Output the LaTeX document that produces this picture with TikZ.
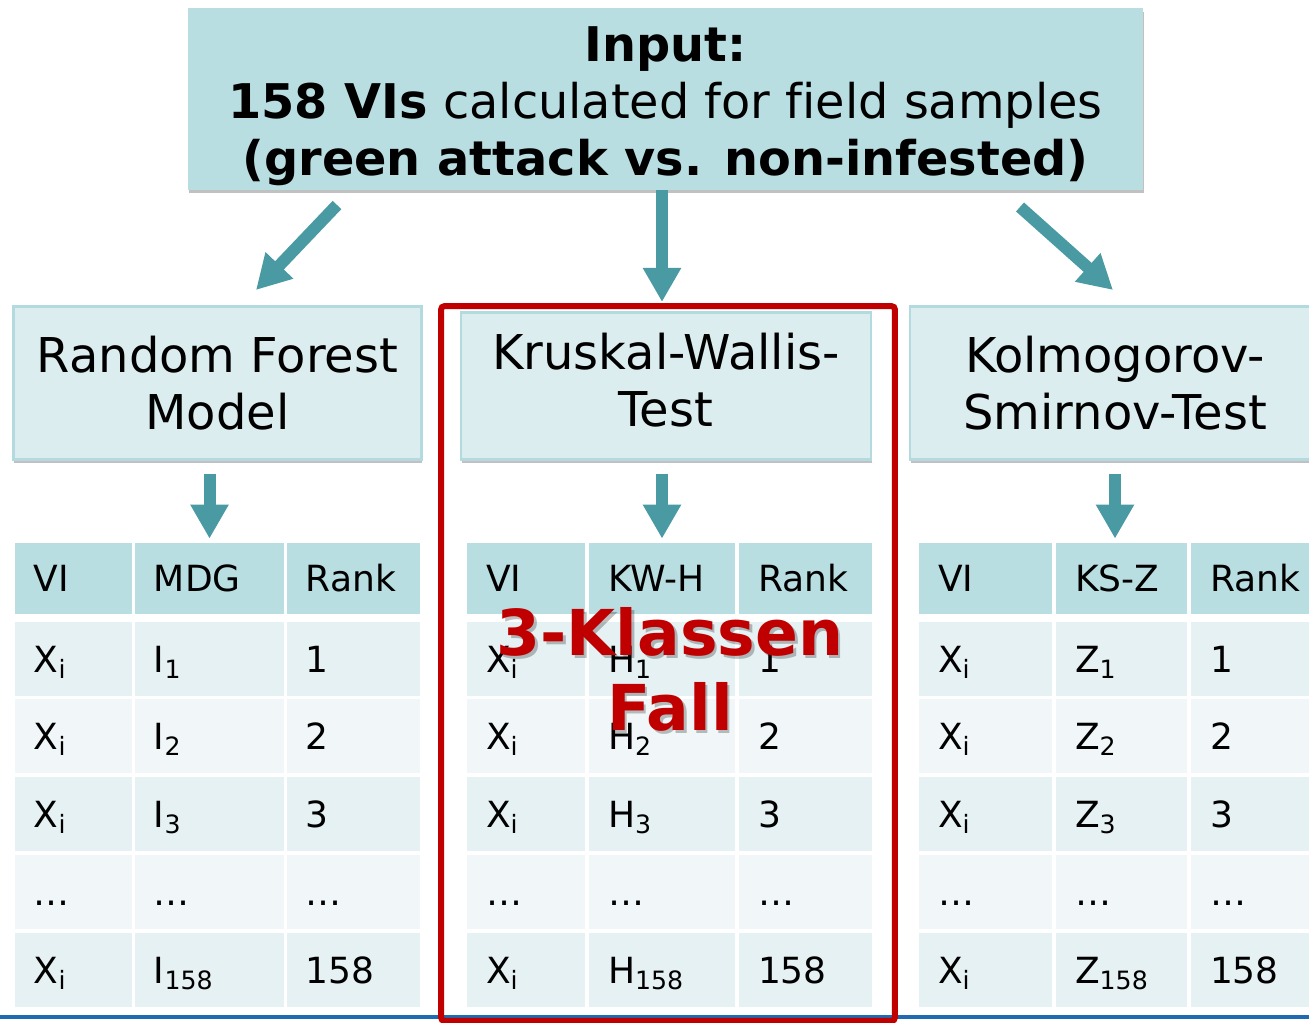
\documentclass[tikz,border=0pt]{standalone}
\usepackage{fontspec}
\setmainfont{DejaVu Sans}[Ligatures=NoCommon]
\usetikzlibrary{arrows.meta,shadows}

\definecolor{headfill}{HTML}{B9DEE2}
\definecolor{boxfill}{HTML}{DBEDEF}
\definecolor{boxline}{HTML}{B3DADE}
\definecolor{rowdark}{HTML}{E5F1F3}
\definecolor{rowlight}{HTML}{F1F7F9}
\definecolor{flowteal}{HTML}{4A9AA3}
\definecolor{markred}{HTML}{C00000}
\definecolor{ruleblue}{HTML}{1F6AB2}

\newcommand\cellsub[1]{\textsubscript{#1}}

% one result table: id, then left edge and width (px) of the three columns,
% header of the middle column, symbol of the statistic
\newcommand\vitable[9]{%
  \pgfmathsetlengthmacro\wA{#3*0.02cm}%
  \pgfmathsetlengthmacro\wB{#5*0.02cm}%
  \pgfmathsetlengthmacro\wC{#7*0.02cm}%
  \foreach \r/\y/\h/\f/\ta/\tb/\tc in {%
      0/543/71/headfill/VI/{#8}/Rank,
      1/622/74/rowdark/{X\cellsub{i}}/{#9\cellsub{1}}/1,
      2/699/74/rowlight/{X\cellsub{i}}/{#9\cellsub{2}}/2,
      3/777/74/rowdark/{X\cellsub{i}}/{#9\cellsub{3}}/3,
      4/855/74/rowlight/{…}/{…}/{…},
      5/933/74/rowdark/{X\cellsub{i}}/{#9\cellsub{158}}/158}{%
    \node[cell,fill=\f,minimum width=\wA,minimum height=\h*0.02cm]
      (#1-\r-1) at (#2+#3/2,\y+\h/2) {\makebox[\wA][l]{\hspace{0.38cm}\ta}};
    \node[cell,fill=\f,minimum width=\wB,minimum height=\h*0.02cm]
      (#1-\r-2) at (#4+#5/2,\y+\h/2) {\makebox[\wB][l]{\hspace{0.38cm}\tb}};
    \node[cell,fill=\f,minimum width=\wC,minimum height=\h*0.02cm]
      (#1-\r-3) at (#6+#7/2,\y+\h/2) {\makebox[\wC][l]{\hspace{0.38cm}\tc}};
  }%
}

\begin{document}
\begin{tikzpicture}[x=0.02cm,y=-0.02cm,
  inbox/.style={fill=headfill,draw=none,minimum width=19.1cm,minimum height=3.64cm,
    align=center,inner sep=0pt,
    font=\fontsize{27.2pt}{32.4pt}\selectfont,
    drop shadow={shadow xshift=0.5pt,shadow yshift=-2pt,opacity=0.35,fill=black!70}},
  method/.style={fill=boxfill,draw=boxline,line width=1.2pt,minimum width=8.16cm,
    minimum height=3.06cm,align=center,inner sep=0pt,
    font=\fontsize{27.3pt}{32.4pt}\selectfont,
    drop shadow={shadow xshift=0.5pt,shadow yshift=-2pt,opacity=0.35,fill=black!70}},
  cell/.style={inner sep=0pt,draw=none,text height=15pt,text depth=0pt,
    font=\fontsize{20.5pt}{24pt}\selectfont},
  flowarrow/.style={draw=flowteal,line width=0.24cm,
    -{Triangle[width=0.72cm,length=0.68cm]}},
  redframe/.style={draw=markred,line width=0.12cm,rounded corners=2pt},
  redtext/.style={align=center,inner sep=0pt,
    font=\fontsize{36pt}{42.7pt}\selectfont\bfseries}]

\useasboundingbox (0,0) rectangle (1309,1023);

% input and the three methods
\node[inbox] (input) at (665.5,99)
  {\rule{0pt}{28pt}\textbf{Input:}\\
   \textbf{158 VIs} calculated for field samples\\
   \textbf{(green attack vs. non-infested)}};

\node[method] (rf) at (217.5,383) {Random Forest\\Model};
\node[method,minimum width=8.2cm,minimum height=2.94cm] (kw) at (666,386)
  {\rule{0pt}{0pt}Kruskal-Wallis-\\Test\rule[-7pt]{0pt}{0pt}};
\node[method,minimum width=8.2cm] (ks) at (1115,383)
  {Kolmogorov-\\Smirnov-Test};

% result tables
\vitable{rft}{15}{117}{135}{149}{287}{133}{MDG}{I}
\vitable{kwt}{467}{118}{589}{146}{739}{133}{KW-H}{H}
\vitable{kst}{919}{133}{1056}{131}{1191}{140}{KS-Z}{Z}

% bottom rule
\draw[ruleblue,line width=0.08cm] (0,1017) -- (1309,1017);

% highlight of the Kruskal-Wallis branch
\node[redframe,minimum width=9.08cm,minimum height=14.3cm,inner sep=0pt]
  (frame) at (668,663.5) {};

% arrows from the input
\coordinate (lfrom) at (337,205);
\coordinate (lto) at (256,290);
\coordinate (rfrom) at (1020,207);
\coordinate (rto) at (1113,290);
\draw[flowarrow] (lfrom) -- (lto);
\draw[flowarrow] (input.south -| kwt-0-2.north) -- ([yshift=0.19cm]kwt-0-2.north |- kw.north);
\draw[flowarrow] (rfrom) -- (rto);

% arrows from the methods to their tables
\draw[flowarrow,shorten <=0.26cm,shorten >=0.08cm] (rft-0-2.north |- rf.south) -- (rft-0-2.north);
\draw[flowarrow,shorten <=0.26cm,shorten >=0.08cm] (kwt-0-2.north |- kw.south) -- (kwt-0-2.north);
\draw[flowarrow,shorten <=0.26cm,shorten >=0.08cm] (ks.south) -- (ks.south |- kst-0-2.north);

% label of the highlighted branch
\node[redtext,text=black,opacity=0.25] (fallshade) at (672.5,672) {3-Klassen\\Fall};
\node[redtext,text=markred] (fall) at (670,669) {3-Klassen\\Fall};

\end{tikzpicture}
\end{document}
